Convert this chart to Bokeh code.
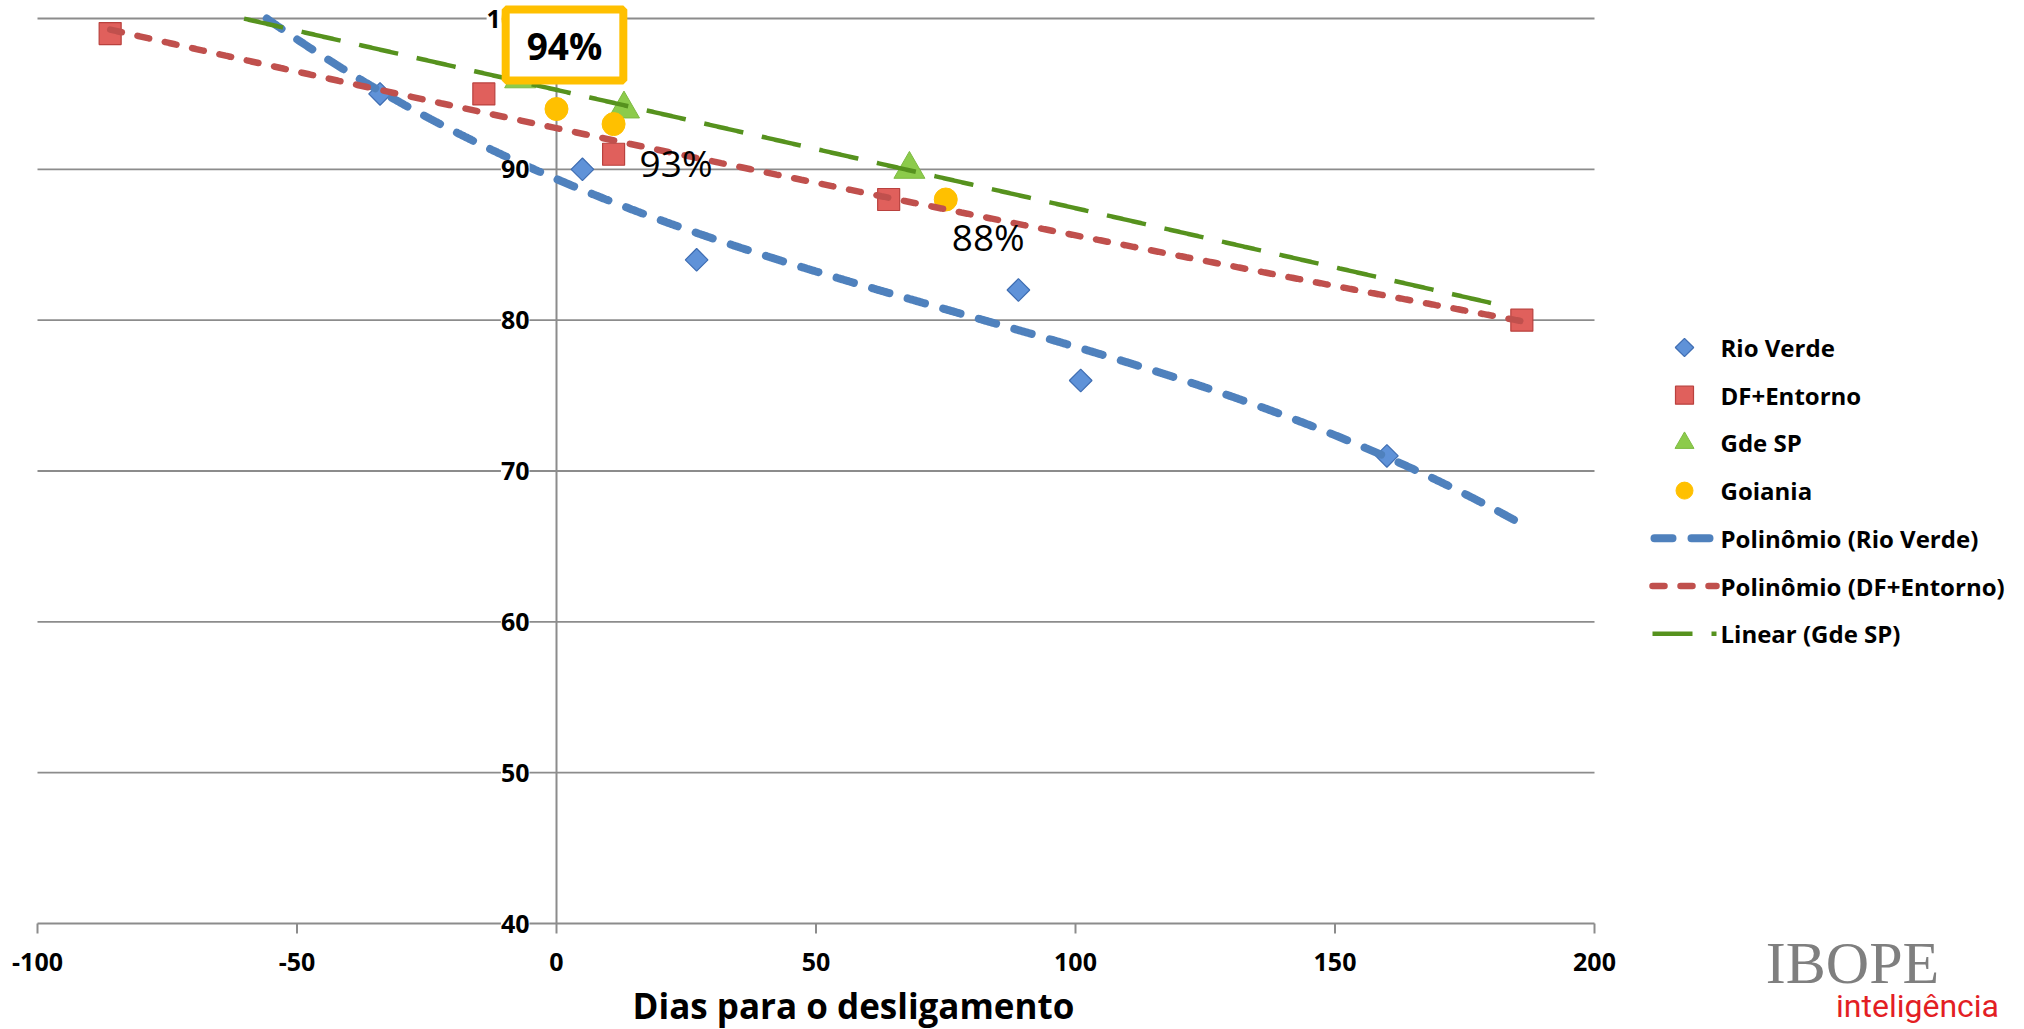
import numpy as np
from bokeh.plotting import figure
from bokeh.models import Label
from bokeh.core.properties import value
from bokeh.embed import file_html
from bokeh.resources import INLINE

# ---------------- data ----------------
rio_verde_x = [-34, 5, 27, 89, 101, 160]
rio_verde_y = [95, 90, 84, 82, 76, 71]
df_x = [-86, -14, 11, 64, 186]
df_y = [99, 95, 91, 88, 80]
sp_x = [-7, 13, 68]
sp_y = [96, 94, 90]
goiania_x = [0, 11, 75]
goiania_y = [94, 93, 88]
goiania_labels = ["94%", "93%", "88%"]

series_names = ["Rio Verde", "DF+Entorno", "Gde SP", "Goiania"]
trend_names = ["Polinômio (Rio Verde)", "Polinômio (DF+Entorno)", "Linear (Gde SP)"]
# extent of each trendline along x
rio_verde_trend_span = [-86, 186]
df_trend_span = [-86, 186]
sp_trend_span = [-86, 183]
rio_verde_trend_order = 3
df_trend_order = 2
sp_trend_order = 1

x_ticks = [-100, -50, 0, 50, 100, 150, 200]
x_tick_labels = ["-100", "-50", "0", "50", "100", "150", "200"]
y_ticks = [40, 50, 60, 70, 80, 90, 100]
y_tick_labels = ["40", "50", "60", "70", "80", "90", "100"]
x_title = "Dias para o desligamento"
logo_top = "IBOPE"
logo_bottom = "inteligência"

# ---------------- layout (pixels on the canvas) ----------------
W, H = 2024, 1029
PL, PR, PT, PB = 37, 1594, 18, 923          # plot area edges
X_MIN, X_MAX = x_ticks[0], x_ticks[-1]
Y_MIN, Y_MAX = y_ticks[0], y_ticks[-1]
SX = (PR - PL) / (X_MAX - X_MIN)
SY = (PB - PT) / (Y_MAX - Y_MIN)


def px_x(px):
    return X_MIN + (px - PL) / SX


def px_y(py):
    return Y_MAX - (py - PT) / SY


FONT = "Open Sans"
GRID = "#8C8C8C"

STYLE_RV = dict(marker="square", angle=np.pi / 4, fill_color="#5F92D8", line_color="#3E6DB2", line_width=1.2)
STYLE_DF = dict(marker="square", fill_color="#E0605C", line_color="#B9413E", line_width=1.2)
STYLE_SP = dict(marker="triangle", fill_color="#8CCB4B", line_color="#7DBA42", line_width=1)
STYLE_GO = dict(marker="circle", fill_color="#FFC000", line_color="#FFC000", line_width=1)
LINE_RV = dict(line_color="#4F81BD", line_width=8, line_dash="18 19", line_cap="round")
LINE_DF = dict(line_color="#C0504D", line_width=6.5, line_dash="12 16", line_cap="round")
LINE_SP = dict(line_color="#56921E", line_width=4.5, line_dash="40 19")


def trend(xs, ys, order, span):
    coef = np.polyfit(np.array(xs, float), np.array(ys, float), order)
    tx = np.linspace(span[0], span[1], 1200)
    ty = np.polyval(coef, tx)
    ty = np.where(ty <= Y_MAX, ty, np.nan)   # clip to the plot area like the source chart
    return tx, ty


p = figure(frame_width=W, frame_height=H, min_border=0,
           x_range=(px_x(0), px_x(W)), y_range=(px_y(H), px_y(0)),
           output_backend="svg", toolbar_location=None,
           x_axis_location=None, y_axis_location=None,
           background_fill_color="white", border_fill_color="white")
p.outline_line_color = None
p.grid.visible = False

# grid lines and axes
p.segment(x0=[X_MIN] * len(y_ticks), x1=[X_MAX] * len(y_ticks), y0=y_ticks, y1=y_ticks,
          line_color=GRID, line_width=1.8)
p.segment(x0=[0], x1=[0], y0=[Y_MIN], y1=[Y_MAX], line_color=GRID, line_width=2)
p.segment(x0=x_ticks, x1=x_ticks, y0=[Y_MIN] * len(x_ticks), y1=[px_y(PB + 10)] * len(x_ticks),
          line_color=GRID, line_width=2)

# markers
p.scatter(rio_verde_x, rio_verde_y, size=16, **STYLE_RV)
p.scatter(df_x, df_y, size=22, **STYLE_DF)
p.scatter(sp_x, sp_y, size=31, **STYLE_SP)
p.scatter(goiania_x, goiania_y, size=23, **STYLE_GO)

# trendlines
tx, ty = trend(rio_verde_x, rio_verde_y, rio_verde_trend_order, rio_verde_trend_span)
p.line(tx, ty, **LINE_RV)
tx, ty = trend(df_x, df_y, df_trend_order, df_trend_span)
p.line(tx, ty, **LINE_DF)
tx, ty = trend(sp_x, sp_y, sp_trend_order, sp_trend_span)
p.line(tx, ty, **LINE_SP)

# tick labels
p.text(x=x_ticks, y=[Y_MIN] * len(x_ticks), text=x_tick_labels, y_offset=38,
       text_align="center", text_baseline="middle", text_font=value(FONT),
       text_font_style="bold", text_font_size="25px", text_color="black")
p.text(x=[0] * len(y_ticks), y=y_ticks, text=y_tick_labels, x_offset=-27,
       text_align="right", text_baseline="middle", text_font=value(FONT),
       text_font_style="bold", text_font_size="25px", text_color="black",
       background_fill_color="white")

# data labels for Goiania
p.text(x=goiania_x[1:2], y=goiania_y[1:2], text=goiania_labels[1:2], x_offset=26, y_offset=38,
       text_align="left", text_baseline="middle", text_font=value(FONT), text_font_size="37px",
       text_color="black")
p.text(x=goiania_x[2:3], y=goiania_y[2:3], text=goiania_labels[2:3], x_offset=6, y_offset=37,
       text_align="left", text_baseline="middle", text_font=value(FONT), text_font_size="37px",
       text_color="black")
p.add_layout(Label(x=goiania_x[0], y=goiania_y[0], text=goiania_labels[0], x_offset=8, y_offset=64,
                   text_align="center", text_baseline="middle", text_font=FONT, text_font_style="bold",
                   text_font_size="37px", text_color="black",
                   background_fill_color="white", border_line_color="#FFC000", border_line_width=8,
                   padding=dict(left=21, right=21, top=10, bottom=10)))

# axis title
p.add_layout(Label(x=px_x(853), y=px_y(1005), text=x_title, text_align="center", text_baseline="middle",
                   text_font=FONT, text_font_style="bold", text_font_size="35px", text_color="black"))

# logo
p.add_layout(Label(x=px_x(1852), y=px_y(962), text=logo_top, text_align="center", text_baseline="middle",
                   text_font="Liberation Serif", text_font_size="60px", text_color="#7F7F7F"))
p.add_layout(Label(x=px_x(1917), y=px_y(1005), text=logo_bottom, text_align="center",
                   text_baseline="middle", text_font="Roboto",
                   text_font_size="32px", text_color="#E31E24"))

# legend (drawn by hand so that the markers look as in the source)
rows = [347 + 47.7 * i for i in range(7)]
MX, L0, L1, TX = 1684, 1654, 1711, 1720
p.scatter([px_x(MX)], [px_y(rows[0])], size=13, **STYLE_RV)
p.scatter([px_x(MX)], [px_y(rows[1])], size=18, **STYLE_DF)
p.scatter([px_x(MX)], [px_y(rows[2])], size=19, **STYLE_SP)
p.scatter([px_x(MX)], [px_y(rows[3])], size=17, **STYLE_GO)
p.line([px_x(L0), px_x(L1)], [px_y(rows[4])] * 2, **LINE_RV)
p.line([px_x(1652), px_x(1716)], [px_y(rows[5])] * 2, **LINE_DF)
p.line([px_x(1652), px_x(1716)], [px_y(rows[6])] * 2, **LINE_SP)
p.text(x=[px_x(TX)] * 7, y=[px_y(r) for r in rows], text=series_names + trend_names,
       text_align="left", text_baseline="middle", text_font=value(FONT),
       text_font_style="bold", text_font_size="24px", text_color="black")

open("out.html", "w").write(file_html(p, INLINE))
